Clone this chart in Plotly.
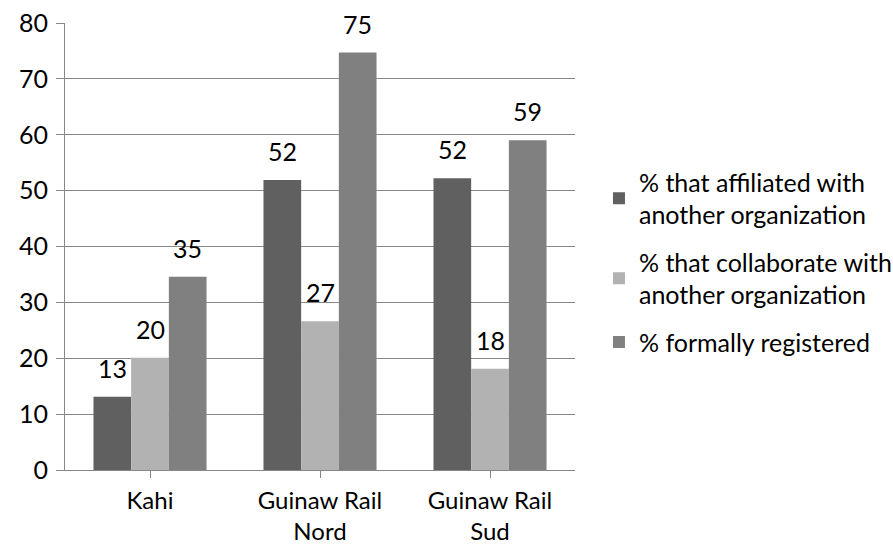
import plotly.graph_objects as go

categories = ["Kahi", "Guinaw Rail<br>Nord", "Guinaw Rail<br>Sud"]
affiliated = [13.1, 51.9, 52.2]
collaborate = [20.1, 26.6, 18.1]
registered = [34.6, 74.7, 59.0]

series_names = [
    "% that affiliated with<br>another organization",
    "% that collaborate with<br>another organization",
    "% formally registered",
]
series_values = [affiliated, collaborate, registered]
series_colors = ["#606060", "#b2b2b2", "#808080"]

FONT = "Lato, Carlito, Calibri, sans-serif"
SIZE = 25
GRID = "#878787"
BARGAP = 0.335

x_pos = list(range(len(categories)))
n_series = len(series_values)
bar_w = (1 - BARGAP) / n_series

fig = go.Figure()
for i, (name, vals, color) in enumerate(zip(series_names, series_values, series_colors)):
    fig.add_trace(go.Bar(
        x=x_pos,
        y=vals,
        name=name,
        legendgroup=f"s{i}",
        marker=dict(color=color, line=dict(width=0)),
    ))
    # value labels sitting above each bar
    offset = (i - (n_series - 1) / 2) * bar_w
    for xp, v in zip(x_pos, vals):
        fig.add_annotation(
            x=xp + offset, y=v, xref="x", yref="y",
            text=f"{v:.0f}", showarrow=False,
            yanchor="bottom", yshift=12,
            font=dict(family=FONT, size=SIZE, color="#000000"),
        )

fig.update_layout(
    width=893,
    height=548,
    margin=dict(l=65, r=318, t=23, b=78, autoexpand=False),
    paper_bgcolor="white",
    plot_bgcolor="white",
    barmode="group",
    bargap=BARGAP,
    bargroupgap=0,
    font=dict(family=FONT, size=SIZE, color="#000000"),
    legend=dict(
        x=1.047,
        y=0.695,
        xanchor="left",
        yanchor="top",
        font=dict(family=FONT, size=SIZE),
        traceorder="grouped",
        tracegroupgap=12,
        itemwidth=30,
    ),
    xaxis=dict(
        tickmode="array",
        tickvals=x_pos,
        ticktext=categories,
        range=[-0.5, len(categories) - 0.5],
        automargin=False,
        showline=True,
        linecolor=GRID,
        linewidth=1,
        ticks="outside",
        tickson="boundaries",
        ticklen=7,
        tickcolor=GRID,
        ticklabelstandoff=2,
        showgrid=False,
        zeroline=False,
        tickfont=dict(family=FONT, size=24),
    ),
    yaxis=dict(
        range=[0, 80],
        dtick=10,
        automargin=False,
        showline=True,
        linecolor=GRID,
        linewidth=1,
        ticks="outside",
        ticklen=8,
        tickcolor=GRID,
        ticklabelstandoff=3,
        showgrid=True,
        gridcolor=GRID,
        gridwidth=1,
        zeroline=False,
        tickfont=dict(family=FONT, size=SIZE),
    ),
)

fig.write_html("out.html")
